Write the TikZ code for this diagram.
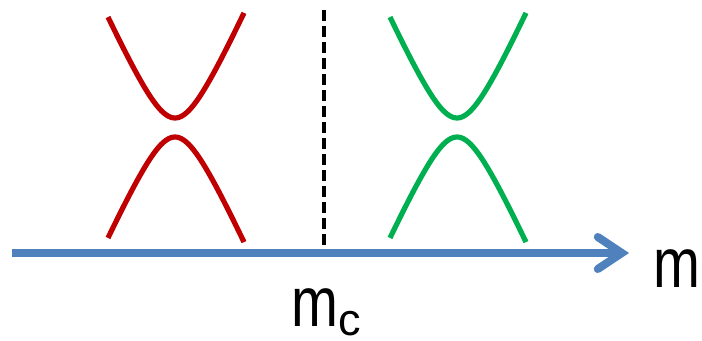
\documentclass[tikz,border=0pt]{standalone}
\usepackage{fontspec}
\setmainfont{Liberation Sans}
\usetikzlibrary{arrows.meta}
\definecolor{bandred}{HTML}{C00000}
\definecolor{bandgreen}{HTML}{00B050}
\definecolor{axisblue}{HTML}{4F81BD}
\newcommand{\narrowm}{\scalebox{0.8}[1]{m}}

\begin{document}
\begin{tikzpicture}[
    x=0.025cm, y=-0.025cm,
    band/.style={line width=0.13cm},
    axis/.style={axisblue, line width=0.2cm, -{Straight Barb[length=0.6cm, width=0.8cm, line cap=round]}},
    critical/.style={black, line width=0.1cm, dash pattern=on 0.27cm off 0.13cm},
    label/.style={font=\fontsize{50}{50}\selectfont, inner sep=0pt}
]
\useasboundingbox (0,0) rectangle (702,341);
% mass axis
\coordinate (a0) at (12,253);
\coordinate (a1) at (629,253);
\draw[axis] (a0) -- (a1);
\node[label, anchor=base] (mlab) at (677,287) {\narrowm};
% critical mass
\coordinate (c0) at (324,10);
\coordinate (c1) at (324,249);
\draw[critical] (c0) -- (c1);
\node[label, anchor=base] (mclab) at (326,326) {\narrowm\raisebox{-0.24cm}{\fontsize{32}{32}\selectfont c}};
% gapped bands, left and right of m_c
\draw[band, bandred] plot[domain=-67:69, samples=60] ({175+\x},{118-10*(sqrt(36+0.0497*\x*\x)-6)});
\draw[band, bandred] plot[domain=-67:69, samples=60] ({175+\x},{137+10*(sqrt(36+0.0497*\x*\x)-6)});
\draw[band, bandgreen] plot[domain=-67:69, samples=60] ({457+\x},{118-10*(sqrt(36+0.0497*\x*\x)-6)});
\draw[band, bandgreen] plot[domain=-67:69, samples=60] ({457+\x},{137+10*(sqrt(36+0.0497*\x*\x)-6)});
\end{tikzpicture}
\end{document}
